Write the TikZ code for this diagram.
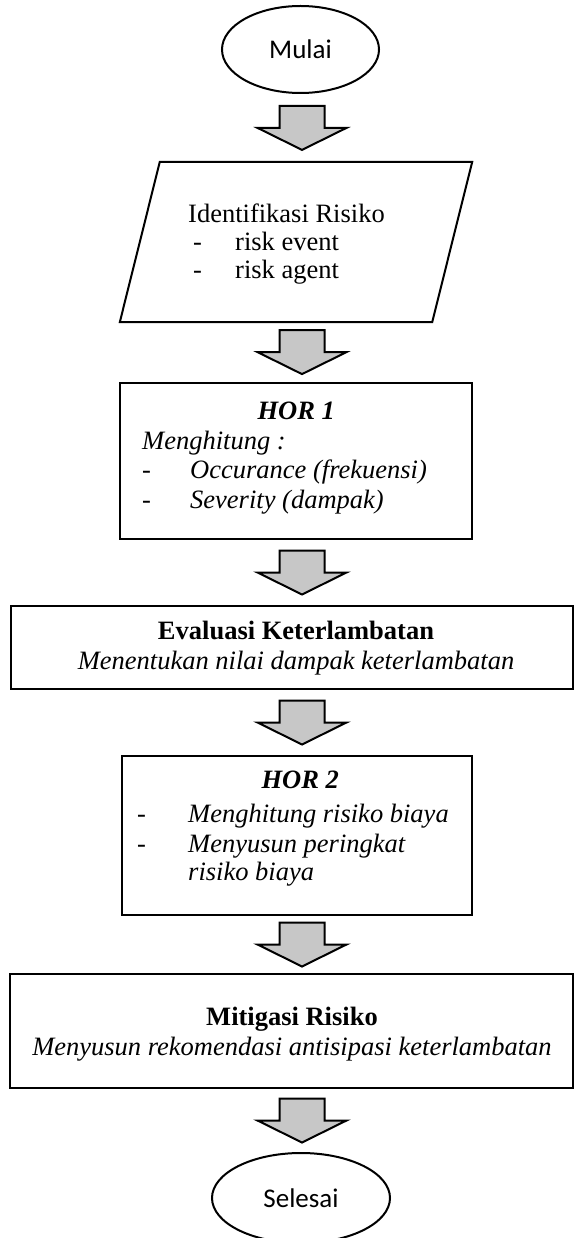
\documentclass[tikz,border=0pt]{standalone}
\usepackage{fontspec}
\setmainfont{Liberation Serif}
\newfontfamily\calibri{Carlito}
\usetikzlibrary{positioning, shapes.geometric, calc}
\tikzset{
  outline/.style={line width=2pt, line join=miter},
  box/.style={draw, outline, inner sep=0pt},
  terminal/.style={box, ellipse, font=\calibri\fontsize{27}{30}\selectfont},
  flowbox/.style={box, rectangle},
  iobox/.style={rectangle, inner sep=0pt},
  txt/.style={inner sep=0pt, align=left, font=\fontsize{26.5}{29.5}\selectfont},
  itxt/.style={txt, font=\fontsize{26.5}{29.5}\selectfont\itshape},
  pics/blockarr/.style={code={
    \draw[outline, fill=black!22]
      (-22.5,-22) -- (22.5,-22) -- (22.5,0) -- (44.5,0) -- (0,22) -- (-44.5,0) -- (-22.5,0) -- cycle;
  }}
}
\newcommand{\itemdash}[1]{\makebox[#1][l]{-}}

\begin{document}
\begin{tikzpicture}[x=1pt, y=-1pt]
\useasboundingbox (0,0) rectangle (573,1238);
% start / end
\node[terminal, minimum width=157, minimum height=87] (mulai) at (300.5,49.5) {Mulai};
\node[terminal, minimum width=178, minimum height=90] (selesai) at (301,1198) {Selesai};
% steps
\node[iobox, minimum width=352, minimum height=160] (ident) at (296,242) {};
\draw[outline] ($(ident.north west)+(40,0)$) -- (ident.north east)
  -- ($(ident.south east)+(-40,0)$) -- (ident.south west) -- cycle;
\node[flowbox, minimum width=352, minimum height=156] (hor1) at (296,461) {};
\node[flowbox, minimum width=561.5, minimum height=83] (eval) at (291.75,647.5) {};
\node[flowbox, minimum width=350, minimum height=159] (hor2) at (297,835.5) {};
\node[flowbox, minimum width=562.5, minimum height=114] (mitigasi) at (291.25,1031) {};
% texts (anchored at the baseline of their last line)
\node[txt, anchor=base west] (identtxt) at (188,279)
  {Identifikasi Risiko\\[-1.5pt]\hspace*{5pt}\itemdash{42pt}risk event\\[-1.5pt]\hspace*{5pt}\itemdash{42pt}risk agent};
\node[itxt, anchor=base west] (hor1txt) at (142,508)
  {\makebox[308pt]{\textbf{HOR 1}}\\Menghitung :\\\itemdash{48pt}Occurance (frekuensi)\\\itemdash{48pt}Severity (dampak)};
\node[txt, align=center, anchor=base] (evaltxt) at (296,669)
  {\textbf{Evaluasi Keterlambatan}\\\textit{Menentukan nilai dampak keterlambatan}};
\node[itxt, anchor=base west] (hor2txt) at (137,880)
  {\makebox[326pt]{\textbf{HOR 2}}\\[4.5pt]\itemdash{51pt}Menghitung risiko biaya\\\itemdash{51pt}Menyusun peringkat\\[-1.5pt]\hspace*{51pt}risiko biaya};
\node[txt, align=center, anchor=base] (mitigasitxt) at (292,1055)
  {\textbf{Mitigasi Risiko}\\\textit{Menyusun rekomendasi antisipasi keterlambatan}};
% block arrows between steps
\coordinate (axis) at (302,0);
\foreach \a/\b [count=\i] in {mulai/ident, ident/hor1, hor1/eval, eval/hor2, hor2/mitigasi, mitigasi/selesai}{
  \path ($(\a.south)!0.5!(\b.north)$) coordinate (g\i);
  \pic at (axis |- g\i) {blockarr};
}
\end{tikzpicture}
\end{document}
